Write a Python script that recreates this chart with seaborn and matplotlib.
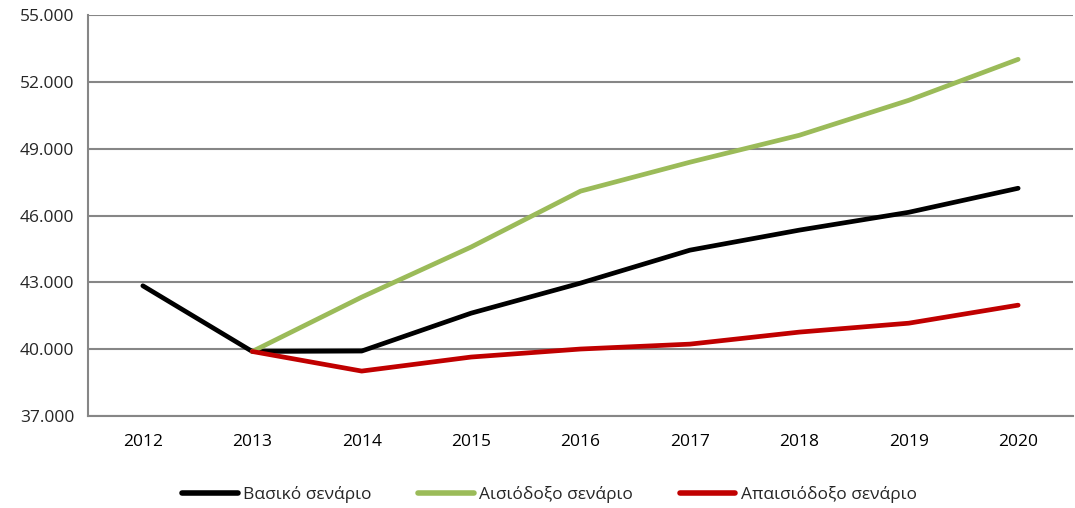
import matplotlib
matplotlib.use("Agg")
import matplotlib.pyplot as plt
import seaborn as sns
import pandas as pd
from matplotlib.ticker import FixedLocator, FuncFormatter

# values
years = [2012, 2013, 2014, 2015, 2016, 2017, 2018, 2019, 2020]
basic = [42850, 39900, 39920, 41620, 42970, 44450, 45350, 46150, 47230]
optimistic = [None, 39900, 42340, 44590, 47100, 48400, 49610, 51180, 53020]
pessimistic = [None, 39900, 39020, 39650, 40010, 40230, 40770, 41170, 41980]

labels = ["Βασικό σενάριο", "Αισιόδοξο σενάριο", "Απαισιόδοξο σενάριο"]
colors = ["#000000", "#9BBB59", "#C00000"]

sns.set_style("white")
plt.rcParams['font.family'] = ['Open Sans', 'DejaVu Sans']

rows = []
for name, vals in zip(labels, [basic, optimistic, pessimistic]):
    for i, v in enumerate(vals):
        if v is not None:
            rows.append({"pos": i, "value": v, "scenario": name})
df = pd.DataFrame(rows)

fig = plt.figure(figsize=(10.75, 5.08), dpi=100)
ax = fig.add_axes([0.082, 0.181, 0.916, 0.789])

# grid first so lines sit on top
for y in range(37000, 55001, 3000):
    ax.axhline(y, color="#868686", lw=1.5, zorder=1)

sns.lineplot(data=df, x="pos", y="value", hue="scenario", hue_order=labels,
             palette=colors, linewidth=3.4, ax=ax, zorder=3, legend=True)

ax.set_xlim(-0.5, len(years) - 0.5)
ax.set_ylim(37000, 55000)
ax.set_xticks(range(len(years)))
ax.set_xticklabels([str(y) for y in years])
ax.xaxis.set_minor_locator(FixedLocator([i - 0.5 for i in range(len(years) + 1)]))
ax.tick_params(axis="x", which="major", length=0, pad=13, labelsize=12.5, colors="#000000")
ax.tick_params(axis="x", which="minor", length=6, width=1.5, color="#868686", direction="out")
ax.set_yticks(range(37000, 55001, 3000))
ax.yaxis.set_major_formatter(FuncFormatter(lambda v, p: f"{int(v):,}".replace(",", ".")))
ax.tick_params(axis="y", length=6, width=1.5, color="#868686", direction="out", labelsize=12.5, pad=4)
ax.set_xlabel("")
ax.set_ylabel("")

for side in ["top", "right"]:
    ax.spines[side].set_visible(False)
for side in ["left", "bottom"]:
    ax.spines[side].set_color("#868686")
    ax.spines[side].set_linewidth(1.5)
    ax.spines[side].set_zorder(2)

handles, lbls = ax.get_legend_handles_labels()
for h in handles:
    h.set_linewidth(4)
ax.legend(handles, lbls, loc="center", bbox_to_anchor=(0.511, 0.027),
          bbox_transform=fig.transFigure, ncol=3,
          frameon=False, fontsize=12.5, handlelength=3.2, handletextpad=0.3,
          columnspacing=2.7)

fig.savefig("out.png", dpi=100)
